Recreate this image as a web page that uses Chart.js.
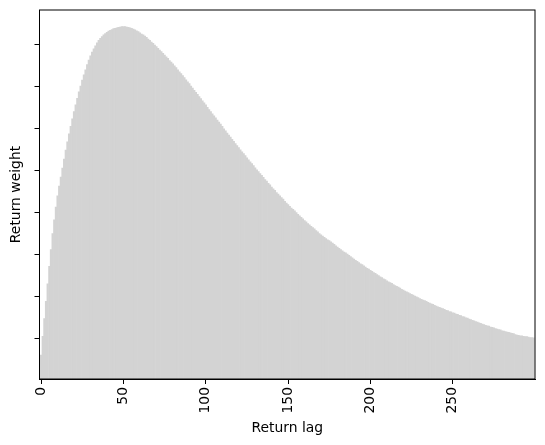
<!DOCTYPE html>
<html>
<head>
<meta charset="utf-8">
<script src="https://cdn.jsdelivr.net/npm/chart.js@4"></script>
<style>
  body { margin: 0; background: #fff; }
</style>
</head>
<body>
<canvas id="lagChart" width="545" height="445"></canvas>
<script>
// Return weight per lag (units of 1e-3)
const returnWeight = [
  0.60, 1.05, 1.47, 1.88, 2.30, 2.72, 3.12, 3.50, 3.83, 4.13,
  4.40, 4.63, 4.85, 5.06, 5.28, 5.49, 5.69, 5.88, 6.06, 6.24,
  6.41, 6.57, 6.73, 6.88, 7.02, 7.16, 7.29, 7.41, 7.53, 7.64,
  7.74, 7.83, 7.91, 7.98, 8.05, 8.11, 8.16, 8.20, 8.24, 8.27,
  8.30, 8.33, 8.35, 8.37, 8.39, 8.40, 8.41, 8.42, 8.43, 8.44,
  8.44, 8.44, 8.43, 8.42, 8.41, 8.40, 8.38, 8.36, 8.34, 8.32,
  8.29, 8.26, 8.24, 8.21, 8.18, 8.14, 8.11, 8.07, 8.04, 8.00,
  7.96, 7.92, 7.88, 7.84, 7.80, 7.76, 7.72, 7.68, 7.63, 7.59,
  7.55, 7.50, 7.46, 7.41, 7.36, 7.32, 7.27, 7.22, 7.17, 7.12,
  7.08, 7.02, 6.97, 6.92, 6.87, 6.82, 6.77, 6.72, 6.67, 6.62,
  6.57, 6.51, 6.46, 6.41, 6.36, 6.31, 6.26, 6.21, 6.16, 6.11,
  6.06, 6.00, 5.95, 5.90, 5.85, 5.80, 5.75, 5.70, 5.65, 5.60,
  5.55, 5.50, 5.45, 5.41, 5.36, 5.31, 5.26, 5.21, 5.17, 5.12,
  5.07, 5.02, 4.98, 4.93, 4.89, 4.84, 4.79, 4.75, 4.70, 4.66,
  4.61, 4.57, 4.53, 4.48, 4.44, 4.40, 4.36, 4.32, 4.27, 4.23,
  4.19, 4.15, 4.11, 4.08, 4.04, 4.00, 3.96, 3.92, 3.89, 3.85,
  3.81, 3.78, 3.74, 3.71, 3.67, 3.64, 3.61, 3.57, 3.54, 3.50,
  3.47, 3.44, 3.41, 3.38, 3.35, 3.33, 3.30, 3.27, 3.24, 3.21,
  3.18, 3.15, 3.12, 3.09, 3.06, 3.04, 3.01, 2.98, 2.95, 2.92,
  2.89, 2.86, 2.84, 2.81, 2.78, 2.76, 2.73, 2.70, 2.67, 2.65,
  2.62, 2.60, 2.57, 2.55, 2.52, 2.50, 2.47, 2.45, 2.42, 2.40,
  2.37, 2.35, 2.33, 2.31, 2.28, 2.26, 2.24, 2.22, 2.20, 2.17,
  2.15, 2.13, 2.11, 2.09, 2.07, 2.05, 2.03, 2.01, 1.99, 1.97,
  1.95, 1.93, 1.91, 1.90, 1.88, 1.86, 1.84, 1.82, 1.81, 1.79,
  1.77, 1.75, 1.74, 1.72, 1.71, 1.69, 1.67, 1.66, 1.64, 1.63,
  1.61, 1.60, 1.58, 1.57, 1.55, 1.54, 1.52, 1.51, 1.49, 1.48,
  1.46, 1.45, 1.43, 1.42, 1.40, 1.39, 1.37, 1.36, 1.34, 1.33,
  1.31, 1.30, 1.29, 1.27, 1.26, 1.25, 1.23, 1.22, 1.21, 1.20,
  1.18, 1.17, 1.16, 1.15, 1.14, 1.13, 1.12, 1.11, 1.09, 1.08,
  1.07, 1.06, 1.06, 1.05, 1.04, 1.04, 1.03, 1.02, 1.02, 1.01
];
const lags = returnWeight.map((_, i) => i);
const xTicks = [0, 50, 100, 150, 200, 250];
const yTicks = [1, 2, 3, 4, 5, 6, 7, 8];

const font = { family: 'DejaVu Sans', size: 13.9 };

// matplotlib-style box around the plot
const frame = {
  id: 'frame',
  afterDraw(chart) {
    const { ctx, chartArea: a } = chart;
    ctx.save();
    ctx.strokeStyle = '#000';
    ctx.lineWidth = 1;
    ctx.strokeRect(a.left, a.top, a.right - a.left, a.bottom - a.top);
    ctx.restore();
  }
};

const ctx = document.getElementById('lagChart').getContext('2d');
new Chart(ctx, {
  type: 'bar',
  data: {
    datasets: [{
      data: lags.map((l, i) => ({ x: l, y: returnWeight[i] })),
      backgroundColor: '#d3d3d3',
      borderWidth: 0,
      barPercentage: 1,
      categoryPercentage: 1
    }]
  },
  options: {
    responsive: false,
    animation: false,
    devicePixelRatio: 1,
    layout: { padding: { left: 0, right: 10, top: 10, bottom: 0 } },
    plugins: { legend: { display: false }, tooltip: { enabled: false } },
    scales: {
      x: {
        type: 'linear',
        min: -1,
        max: 300,
        offset: false,
        afterBuildTicks: s => { s.ticks = xTicks.map(v => ({ value: v })); },
        afterFit: s => { s.height = 66; },
        grid: { offset: false, drawOnChartArea: false, drawTicks: true, tickLength: 5, tickColor: '#000' },
        border: { color: '#000', width: 1 },
        ticks: { color: '#000', font: font, minRotation: 90, maxRotation: 90, padding: 3, autoSkip: false },
        title: { display: true, text: 'Return lag', color: '#000', font: font, padding: { top: 0, bottom: 8 } }
      },
      y: {
        min: 0.029,
        max: 8.835,
        afterBuildTicks: s => { s.ticks = yTicks.map(v => ({ value: v })); },
        afterFit: s => { s.width = 39.5; },
        grid: { drawOnChartArea: false, drawTicks: true, tickLength: 5, tickColor: '#000' },
        border: { color: '#000', width: 1 },
        ticks: { display: false },
        title: { display: true, text: 'Return weight', color: '#000', font: font, padding: { top: 8, bottom: 0 } }
      }
    }
  },
  plugins: [frame]
});
</script>
</body>
</html>
